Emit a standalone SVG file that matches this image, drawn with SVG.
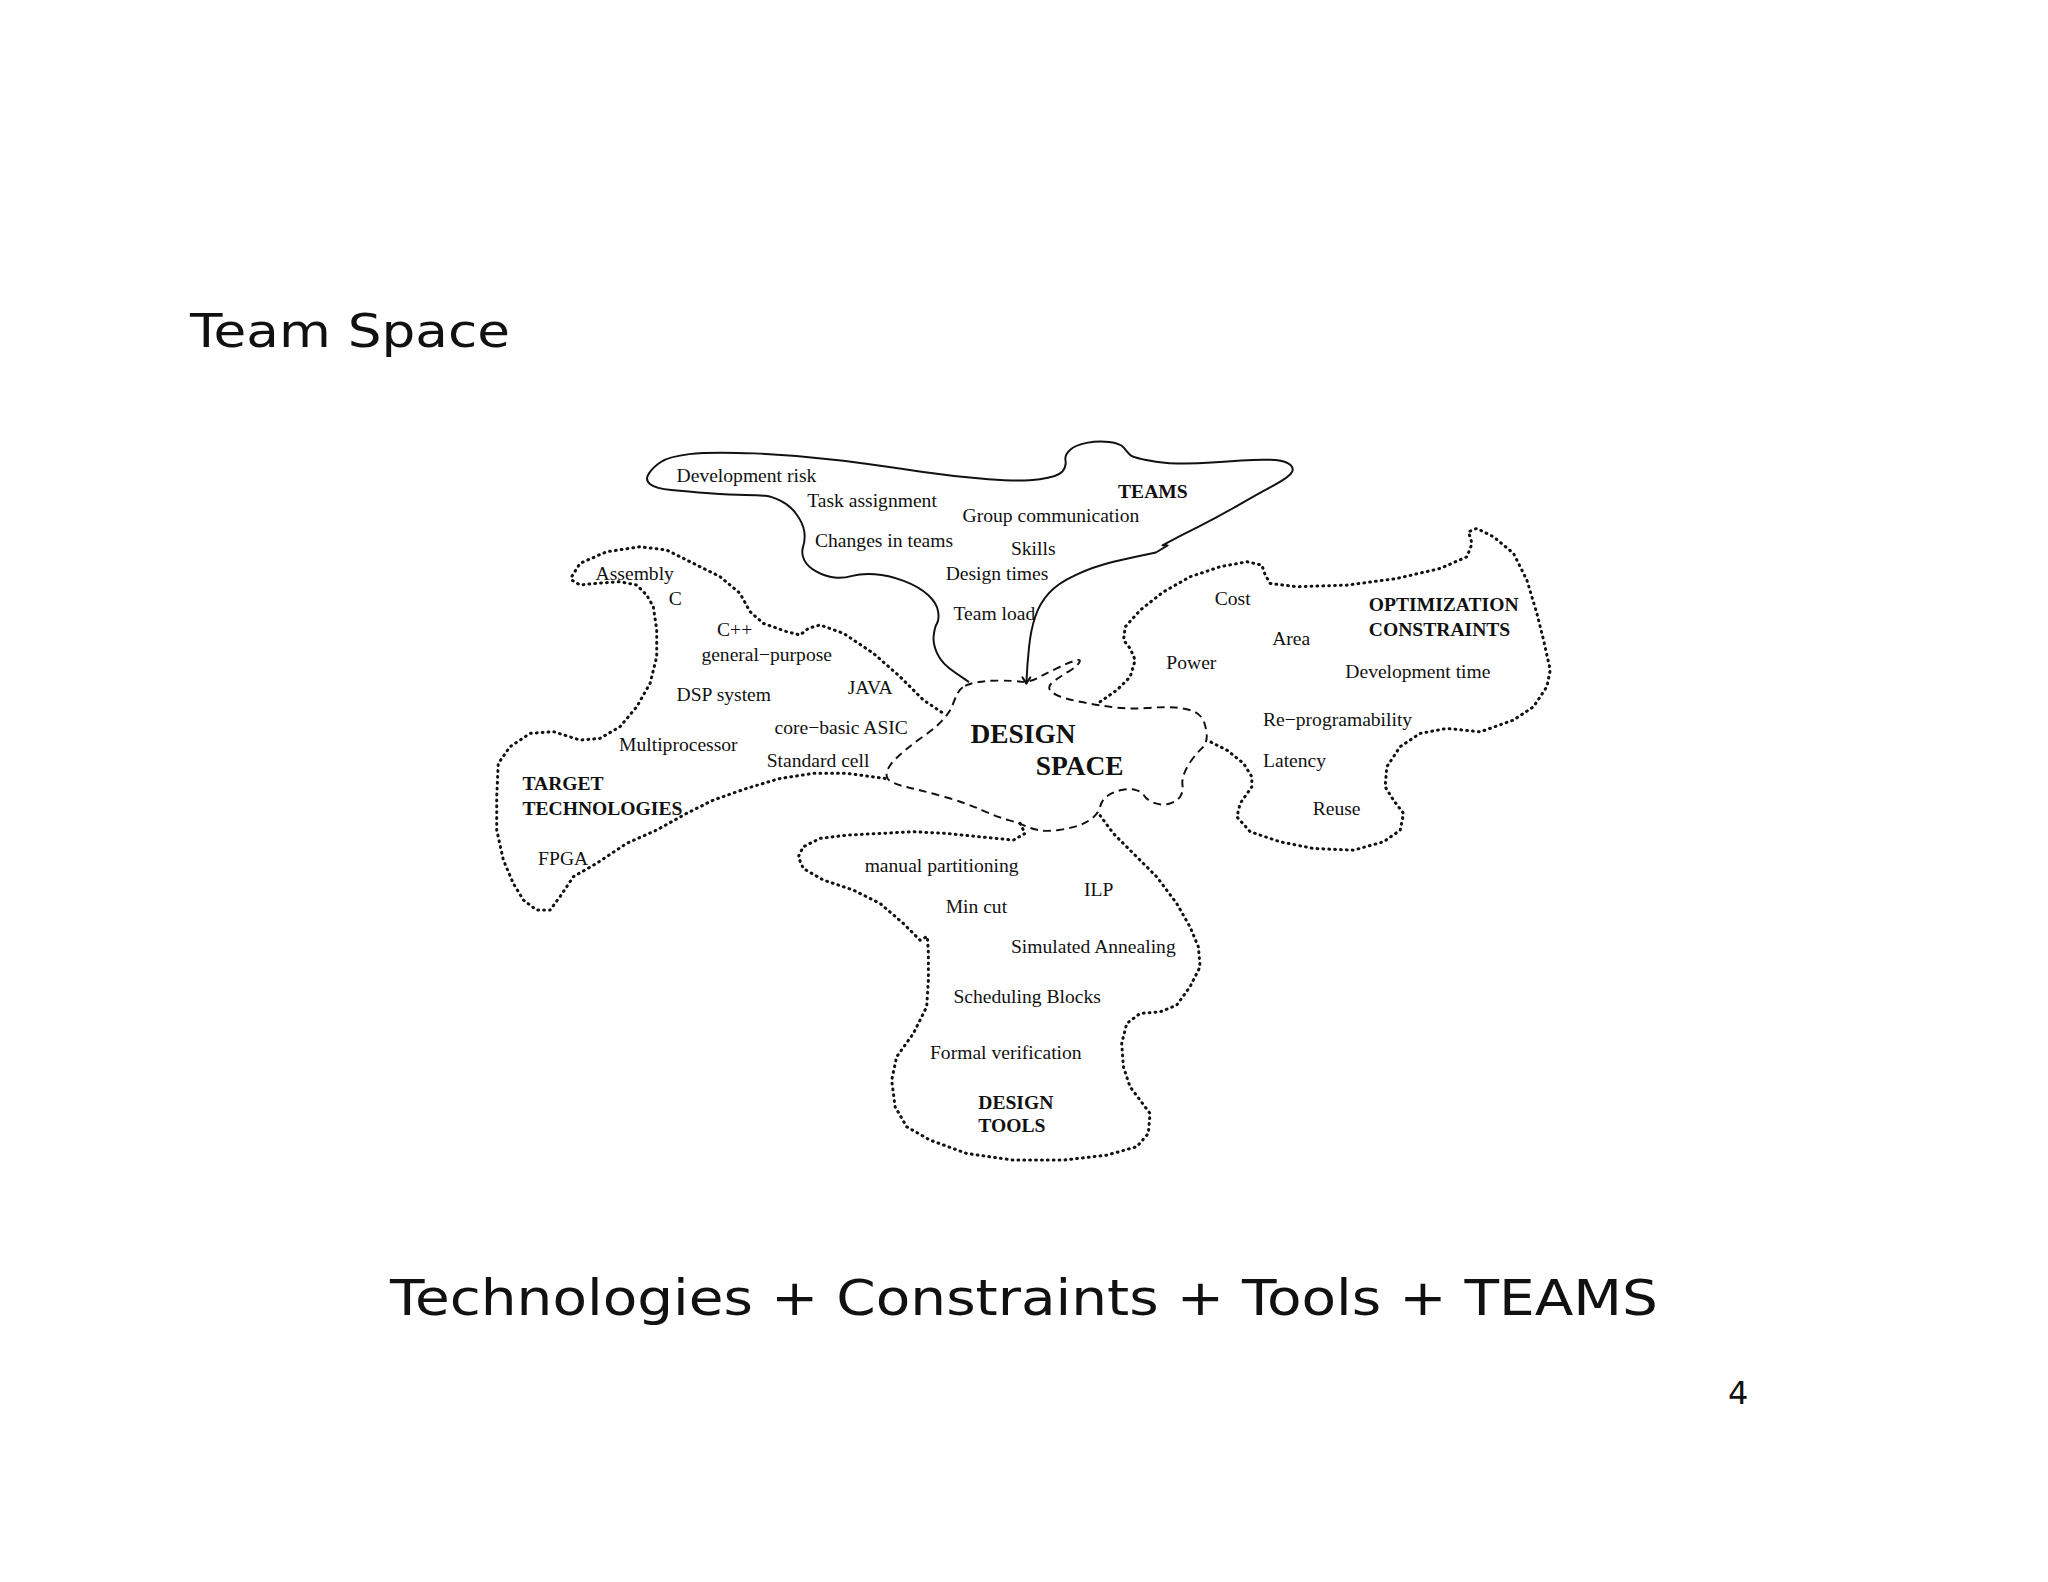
<svg xmlns="http://www.w3.org/2000/svg" width="2048" height="1582" viewBox="0 0 2048 1582">
<style>
.lbl{font-family:"Liberation Serif","Times New Roman",serif;font-size:15px;fill:#111}
.bold{font-weight:bold}
.big{font-family:"Liberation Serif","Times New Roman",serif;font-size:21px;font-weight:bold;fill:#111}
.sans{font-family:"DejaVu Sans","Liberation Sans",sans-serif;fill:#111}
.solid{fill:none;stroke:#111;stroke-width:1.5;stroke-linejoin:round;stroke-linecap:round}
.dashed{fill:none;stroke:#111;stroke-width:1.5;stroke-dasharray:6 4}
.dotted{fill:none;stroke:#111;stroke-width:2.3;stroke-dasharray:0.6 3.9;stroke-linecap:round;stroke-linejoin:round}
</style>
<rect width="2048" height="1582" fill="#fff"/>
<text class="sans" x="190" y="347" font-size="47" textLength="320" lengthAdjust="spacingAndGlyphs">Team Space</text>
<g transform="scale(1.306122)">
  <g id="teams">
    <path class="solid" d="M741.4,521.9 L731.2,514.9 Q720.9,507.9 717.5,500.2 Q714,492.5 714.9,486.2 Q715.7,479.8 717.4,477.3 Q719.1,474.7 718.3,468.4 Q717.4,462 710.6,455.6 Q703.8,449.2 691.9,444.7 Q680,440.2 669.7,439.6 Q659.3,439 652.5,440.9 Q645.7,442.8 638.9,442.2 Q632,441.5 625.2,437.7 Q618.3,433.9 615.8,428.8 Q613.2,423.6 614.9,418.5 Q616.6,413.4 615.8,407.1 Q614.9,400.7 609.8,393.7 Q604.6,386.6 597.8,383.4 Q591,380.2 585.9,379.6 Q580.7,379 570.4,379 Q560,379 543,377.7 Q526,376.4 514,375.2 Q502,374 497.8,370.8 Q493.5,367.5 496.9,362.4 Q500.3,357.3 506.3,353.5 Q512.3,349.6 527.7,347.7 Q543,345.8 577.3,347.1 Q611.5,348.3 645.7,352.8 Q679.8,357.3 705.4,361.2 Q731,365 756.7,366.9 Q782.4,368.8 796.1,366.9 Q809.7,365 813.2,361.2 Q816.6,357.3 815.8,352.8 Q814.9,348.3 819.2,344.5 Q823.4,340.7 832,339.1 Q840.5,337.4 849.1,338.4 Q857.6,339.4 860.2,342.6 Q862.7,345.8 865.3,348.4 Q867.9,350.9 885,353.5 Q902,356 927.7,354.1 Q953.3,352.2 967,352 Q980.7,351.7 985.9,354.5 Q991,357.3 989.3,361.2 Q987.5,365 975.6,371.4 Q963.6,377.7 948.2,386.7 Q932.8,395.6 917.4,403.3 Q902,410.9 890,417.5 L894,417.6 L885,423 Q868,426.5 852.5,430.1 Q837,433.9 823.4,440.3 Q809.7,446.6 802.9,454.3 Q796,462 792.6,472.2 Q789.2,482.3 787.9,495.1 Q786.5,507.9 785.8,523.2"/>
    <text class="lbl" x="518" y="369">Development risk</text>
    <text class="lbl" x="618" y="388">Task assignment</text>
    <text class="lbl" x="737" y="400">Group communication</text>
    <text class="lbl bold" x="856" y="381">TEAMS</text>
    <text class="lbl" x="624" y="419">Changes in teams</text>
    <text class="lbl" x="774" y="425">Skills</text>
    <text class="lbl" x="724" y="444">Design times</text>
    <text class="lbl" x="730" y="475">Team load</text>
  </g>
  <g id="design-space">
    <path class="dashed" d="M738.9,525.1 Q742.7,523.2 749.1,522.2 Q755.5,521.1 765.7,521.1 Q775.9,521.1 781.6,521.9 Q787.3,522.7 794.4,519.1 Q801.4,515.5 809.1,511.7 Q816.7,507.9 822.5,506 Q828.2,504 826.3,507.2 Q824.4,510.4 818,514.2 Q811.6,518 807.2,521.3 Q802.7,524.5 803.4,527.1 Q804,529.6 809.1,532.2 Q814.1,534.7 826.9,537.3 Q839.7,539.8 852.5,541.5 Q865.2,543.1 878,542.1 Q890.7,541 899.7,541.7 Q908.6,542.3 914.3,544.9 Q920,547.4 922,553.2 Q923.9,558.9 923.9,564 Q923.9,569.1 920.1,573 Q916.2,576.8 912.4,581.9 Q908.6,587 906.7,592.1 Q904.7,597.2 905.4,601.7 Q906,606.1 903.5,610 Q900.9,613.8 895.2,615.4 Q889.4,616.9 883.7,614.7 Q878,612.5 876.1,609.3 Q874.1,606.1 869.7,604.9 Q865.2,603.6 858.8,604.9 Q852.4,606.1 848,609.3 Q843.5,612.5 842.3,617.6 Q841,622.7 836.5,626.3 Q832,629.9 825.7,632.1 Q819.3,634.2 810.4,635.5 Q801.4,636.8 795,635.5 Q788.6,634.2 784.8,632.3 Q781,630.4 772.1,627.9 Q763.1,625.3 751.6,620.2 Q740.1,615 724.8,610.6 Q709.5,606.1 695.5,602.9 Q681.4,599.7 679.5,595.9 Q677.6,592.1 680.8,587 Q684,581.9 691.7,575.5 Q699.3,569.1 708.3,562.8 Q717.2,556.4 722.3,550.7 Q727.4,544.9 729.3,539.8 Q731.2,534.7 733.1,530.9 Q735,527 738.9,525.1 Z"/>
    <text class="big" x="743" y="569">DESIGN</text>
    <text class="big" x="793" y="593">SPACE</text>
  </g>
  <g id="target-technologies">
    <path class="dotted" d="M677.6,596 L648.3,592.1 L622.7,592.1 L597.2,596 L571.7,603.6 L546.2,612.5 L525.7,622.7 L502.8,635.5 L479.8,645.7 L456.8,661 L439,671.2 L428.8,686.5 L421.1,696.8 L410.9,696.8 L400.7,689.1 L393,676.4 L385.4,658.5 L380.3,635.5 L380.3,610 L381.5,584.5 L390.5,571.7 L405.8,561.5 L423.7,560.2 L444.1,566.6 L459.4,565.3 L474.7,556.4 L487.5,541.1 L497.7,523.2 L502.8,502.8 L502.8,482.4 L500.2,464.5 L495.1,455.6 L487.5,447.9 L474.7,445.4 L456.8,446.6 L444.1,447.9 L437.7,444.1 L437.7,441.5 L444.1,431.3 L464.5,422.4 L490,418.6 L510.4,421.1 L530.8,431.3 L551.3,441.5 L566.6,454.3 L574.2,468.3 L584.4,477.3 L602.3,483.6 L612.5,486.2 L618.9,481.1 L627.8,478.5 L645.7,484.9 L668.7,500.2 L689.1,518.1 L707,536 L722.3,546.2"/>
    <text class="lbl" x="456" y="444">Assembly</text>
    <text class="lbl" x="512" y="463">C</text>
    <text class="lbl" x="549" y="487">C++</text>
    <text class="lbl" x="537" y="506">general−purpose</text>
    <text class="lbl" x="518" y="537">DSP system</text>
    <text class="lbl" x="649" y="531">JAVA</text>
    <text class="lbl" x="593" y="562">core−basic ASIC</text>
    <text class="lbl" x="474" y="575">Multiprocessor</text>
    <text class="lbl" x="587" y="587">Standard cell</text>
    <text class="lbl bold" x="400" y="605">TARGET</text>
    <text class="lbl bold" x="400" y="624">TECHNOLOGIES</text>
    <text class="lbl" x="412" y="662">FPGA</text>
  </g>
  <g id="optimization-constraints">
    <path class="dotted" d="M842.3,537.3 L855.1,528.4 L865.3,518.2 L869.1,505.4 L865.3,496.5 L860.2,490.1 L861.5,479.9 L873,467.1 L890.8,453.1 L911.2,441.6 L934.2,433.9 L954.6,430.1 L966.1,432.7 L968.7,440.3 L972.5,446.7 L992.9,449.2 L1031.2,448 L1069.5,442.9 L1102.7,435.2 L1123.1,426.3 L1127,416.1 L1124.3,407.1 L1130.7,404.6 L1143.5,411 L1158.8,423.7 L1169,444.1 L1176.7,469.7 L1181.8,490.1 L1186.9,513 L1184.3,525.8 L1174.1,541.1 L1158.8,551.3 L1133.3,560.3 L1107.7,557.7 L1087.3,561.5 L1072,571.7 L1061.8,587 L1060.5,602.4 L1066.9,612.6 L1074.6,622.8 L1072,635.6 L1059.3,644.5 L1036.3,650.9 L1005.7,649.6 L980.1,644.5 L957.2,636.8 L947,625.4 L949.5,615.1 L958.4,602.4 L958.4,594.7 L952.1,584.5 L939.3,574.3 L924,566.6"/>
    <text class="lbl" x="930" y="463">Cost</text>
    <text class="lbl" x="974" y="494">Area</text>
    <text class="lbl bold" x="1048" y="468">OPTIMIZATION</text>
    <text class="lbl bold" x="1048" y="487">CONSTRAINTS</text>
    <text class="lbl" x="893" y="512">Power</text>
    <text class="lbl" x="1030" y="519">Development time</text>
    <text class="lbl" x="967" y="556">Re−programability</text>
    <text class="lbl" x="967" y="587">Latency</text>
    <text class="lbl" x="1005" y="624">Reuse</text>
  </g>
  <g id="design-tools">
    <path class="dotted" d="M781,630.4 L784.8,638.1 L775.9,643.2 L750.3,640.7 L724.8,638.1 L699.3,636.8 L673.8,638.1 L648.2,639.4 L627.8,641.9 L615,648.3 L611.2,656 L615,664.9 L630.4,673.8 L653.4,681.5 L673.8,691.7 L691.6,707 L704.4,719.8 L710,717 L710.8,730 L710.8,750.4 L709.5,770.8 L699.3,791.2 L686.5,809.1 L682.7,827 L685.3,847.4 L694.2,862.7 L712.1,872.9 L740.1,883.1 L775.9,888.2 L814.1,888.2 L847.3,884.4 L870.3,878 L879.2,867.8 L880.5,852.5 L872.9,842.3 L865.2,832.1 L860.1,816.8 L858.8,798.9 L862.7,783.6 L872.9,775.9 L888.2,774.7 L900.9,769.6 L911.1,755.5 L918.8,740.2 L917.5,724.9 L911.1,709.6 L900.9,691.7 L885.6,671.3 L867.7,653.4 L852.4,638.1 L841,622.7"/>
    <text class="lbl" x="662" y="668">manual partitioning</text>
    <text class="lbl" x="830" y="686">ILP</text>
    <text class="lbl" x="724" y="699">Min cut</text>
    <text class="lbl" x="774" y="730">Simulated Annealing</text>
    <text class="lbl" x="730" y="768">Scheduling Blocks</text>
    <text class="lbl" x="712" y="811">Formal verification</text>
    <text class="lbl bold" x="749" y="849">DESIGN</text>
    <text class="lbl bold" x="749" y="867">TOOLS</text>
  </g>
  <g id="connectors">
    <path class="solid" d="M782.8,518.6 L785.8,523.2 L788.8,518.6"/>
  </g>
</g>
<text class="sans" x="390" y="1315" font-size="49" textLength="1268" lengthAdjust="spacingAndGlyphs">Technologies + Constraints + Tools + TEAMS</text>
<text class="sans" x="1728" y="1404" font-size="32">4</text>
</svg>
